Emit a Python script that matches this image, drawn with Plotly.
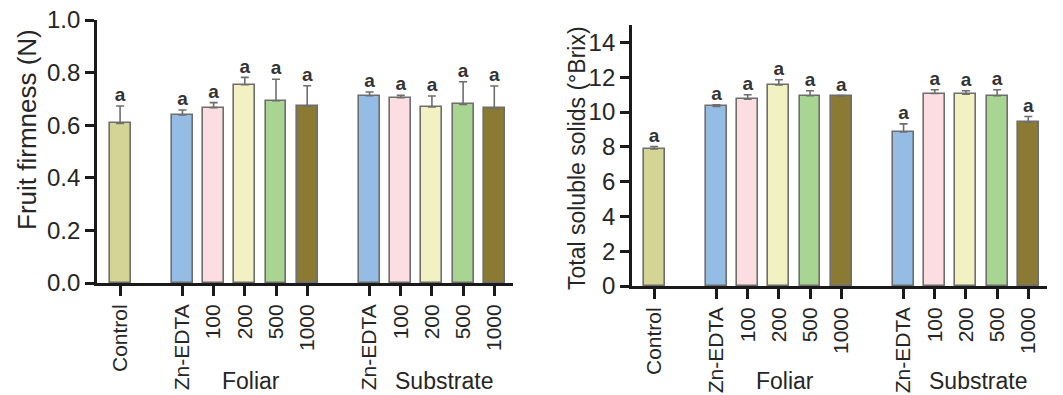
import plotly.graph_objects as go

categories = ["Control", "Zn-EDTA", "100", "200", "500", "1000",
              "Zn-EDTA", "100", "200", "500", "1000"]
positions = [0, 2, 3, 4, 5, 6, 8, 9, 10, 11, 12]
groups = ["Foliar", "Substrate"]

firmness = [0.607, 0.639, 0.667, 0.754, 0.693, 0.673, 0.712, 0.705, 0.669, 0.679, 0.664]
firmness_err = [0.066, 0.019, 0.019, 0.028, 0.082, 0.077, 0.014, 0.009, 0.042, 0.086, 0.085]

tss = [7.88, 10.32, 10.74, 11.55, 10.93, 10.91, 8.86, 11.06, 11.03, 10.93, 9.42]
tss_err = [0.14, 0.09, 0.25, 0.30, 0.29, 0.04, 0.46, 0.22, 0.19, 0.35, 0.32]

letters_firm = ["a"] * 11
letters_tss = ["a"] * 11

colors = ["#d4d495", "#94bce4", "#fcdde1", "#f1f1c2", "#a9d592", "#8a7a33",
          "#94bce4", "#fcdde1", "#f1f1c2", "#a9d592", "#8a7a33"]

W, H = 1063, 395
FONT = "Liberation Sans, Arial, sans-serif"
AX = "#1a1a1a"
TXT = "#262626"

fig = go.Figure()

panels = [
    dict(vals=firmness, err=firmness_err, letters=letters_firm, xa="x", ya="y",
         title="Fruit firmness (N)", xdom=(97, 513), ydom=(20, 283), yr=[0, 1.0],
         dtick=0.2, fmt=".1f", xr=[-0.74, 12.6], tfs=26, tx=27, ty=130),
    dict(vals=tss, err=tss_err, letters=letters_tss, xa="x2", ya="y2",
         title="Total soluble solids (\u00b0Brix)", xdom=(632, 1047), ydom=(25, 286), yr=[0, 15],
         dtick=2, fmt="d", xr=[-0.71, 12.6], tfs=23, tx=577, ty=158),
]

for i, p in enumerate(panels):
    fig.add_trace(go.Bar(
        x=positions, y=p["vals"], width=0.67,
        marker=dict(color=colors, line=dict(color="#6e6e6e", width=1.6)),
        error_y=dict(type="data", array=p["err"], arrayminus=[0] * len(p["err"]),
                     symmetric=False, color="#6e6e6e", thickness=1.6, width=4),
        xaxis=p["xa"], yaxis=p["ya"], showlegend=False,
    ))
    tops = [v + e for v, e in zip(p["vals"], p["err"])]
    fig.add_trace(go.Scatter(
        x=positions, y=tops, mode="text", text=p["letters"],
        textposition="top center",
        textfont=dict(family=FONT, size=19, color="#333333", weight="bold"),
        xaxis=p["xa"], yaxis=p["ya"], showlegend=False, cliponaxis=False,
    ))
    sfx = "" if i == 0 else "2"
    xd = [p["xdom"][0] / W, p["xdom"][1] / W]
    yd = [1 - p["ydom"][1] / H, 1 - p["ydom"][0] / H]
    fig.update_layout(**{
        "xaxis" + sfx: dict(
            domain=xd, range=p["xr"], tickmode="array", tickvals=positions,
            ticktext=categories, tickangle=-90, ticks="outside", ticklen=10,
            tickwidth=2.8, tickcolor=AX, showline=True, linecolor=AX, linewidth=2.8,
            showgrid=False, zeroline=False, automargin=False, anchor="y" + sfx,
            tickfont=dict(family=FONT, size=21, color=TXT), fixedrange=True,
        ),
        "yaxis" + sfx: dict(
            domain=yd, range=p["yr"], dtick=p["dtick"], tick0=0, tickformat=p["fmt"],
            ticks="outside", ticklen=9, tickwidth=2.8, tickcolor=AX, showline=True,
            linecolor=AX, linewidth=2.8, showgrid=False, zeroline=False,
            automargin=False, anchor="x" + sfx,
            tickfont=dict(family=FONT, size=24, color=TXT), fixedrange=True,
        ),
    })
    fig.add_annotation(text=p["title"], xref="paper", yref="paper",
                       x=p["tx"] / W, y=1 - p["ty"] / H, textangle=-90,
                       showarrow=False, xanchor="center", yanchor="middle",
                       font=dict(family=FONT, size=p["tfs"], color=TXT))
    foliar_c = sum(positions[1:6]) / 5 + 0.2
    sub_c = sum(positions[6:11]) / 5 + 0.4
    for gx, g in zip([foliar_c, sub_c], groups):
        fig.add_annotation(text=g, xref=p["xa"], yref="paper", x=gx, y=1 - 381 / H,
                           showarrow=False, xanchor="center", yanchor="middle",
                           font=dict(family=FONT, size=23, color=TXT))

fig.update_layout(
    width=W, height=H, margin=dict(l=0, r=0, t=0, b=0),
    paper_bgcolor="white", plot_bgcolor="white", bargap=0,
    font=dict(family=FONT),
)

fig.write_html("out.html", config={"displayModeBar": False})
